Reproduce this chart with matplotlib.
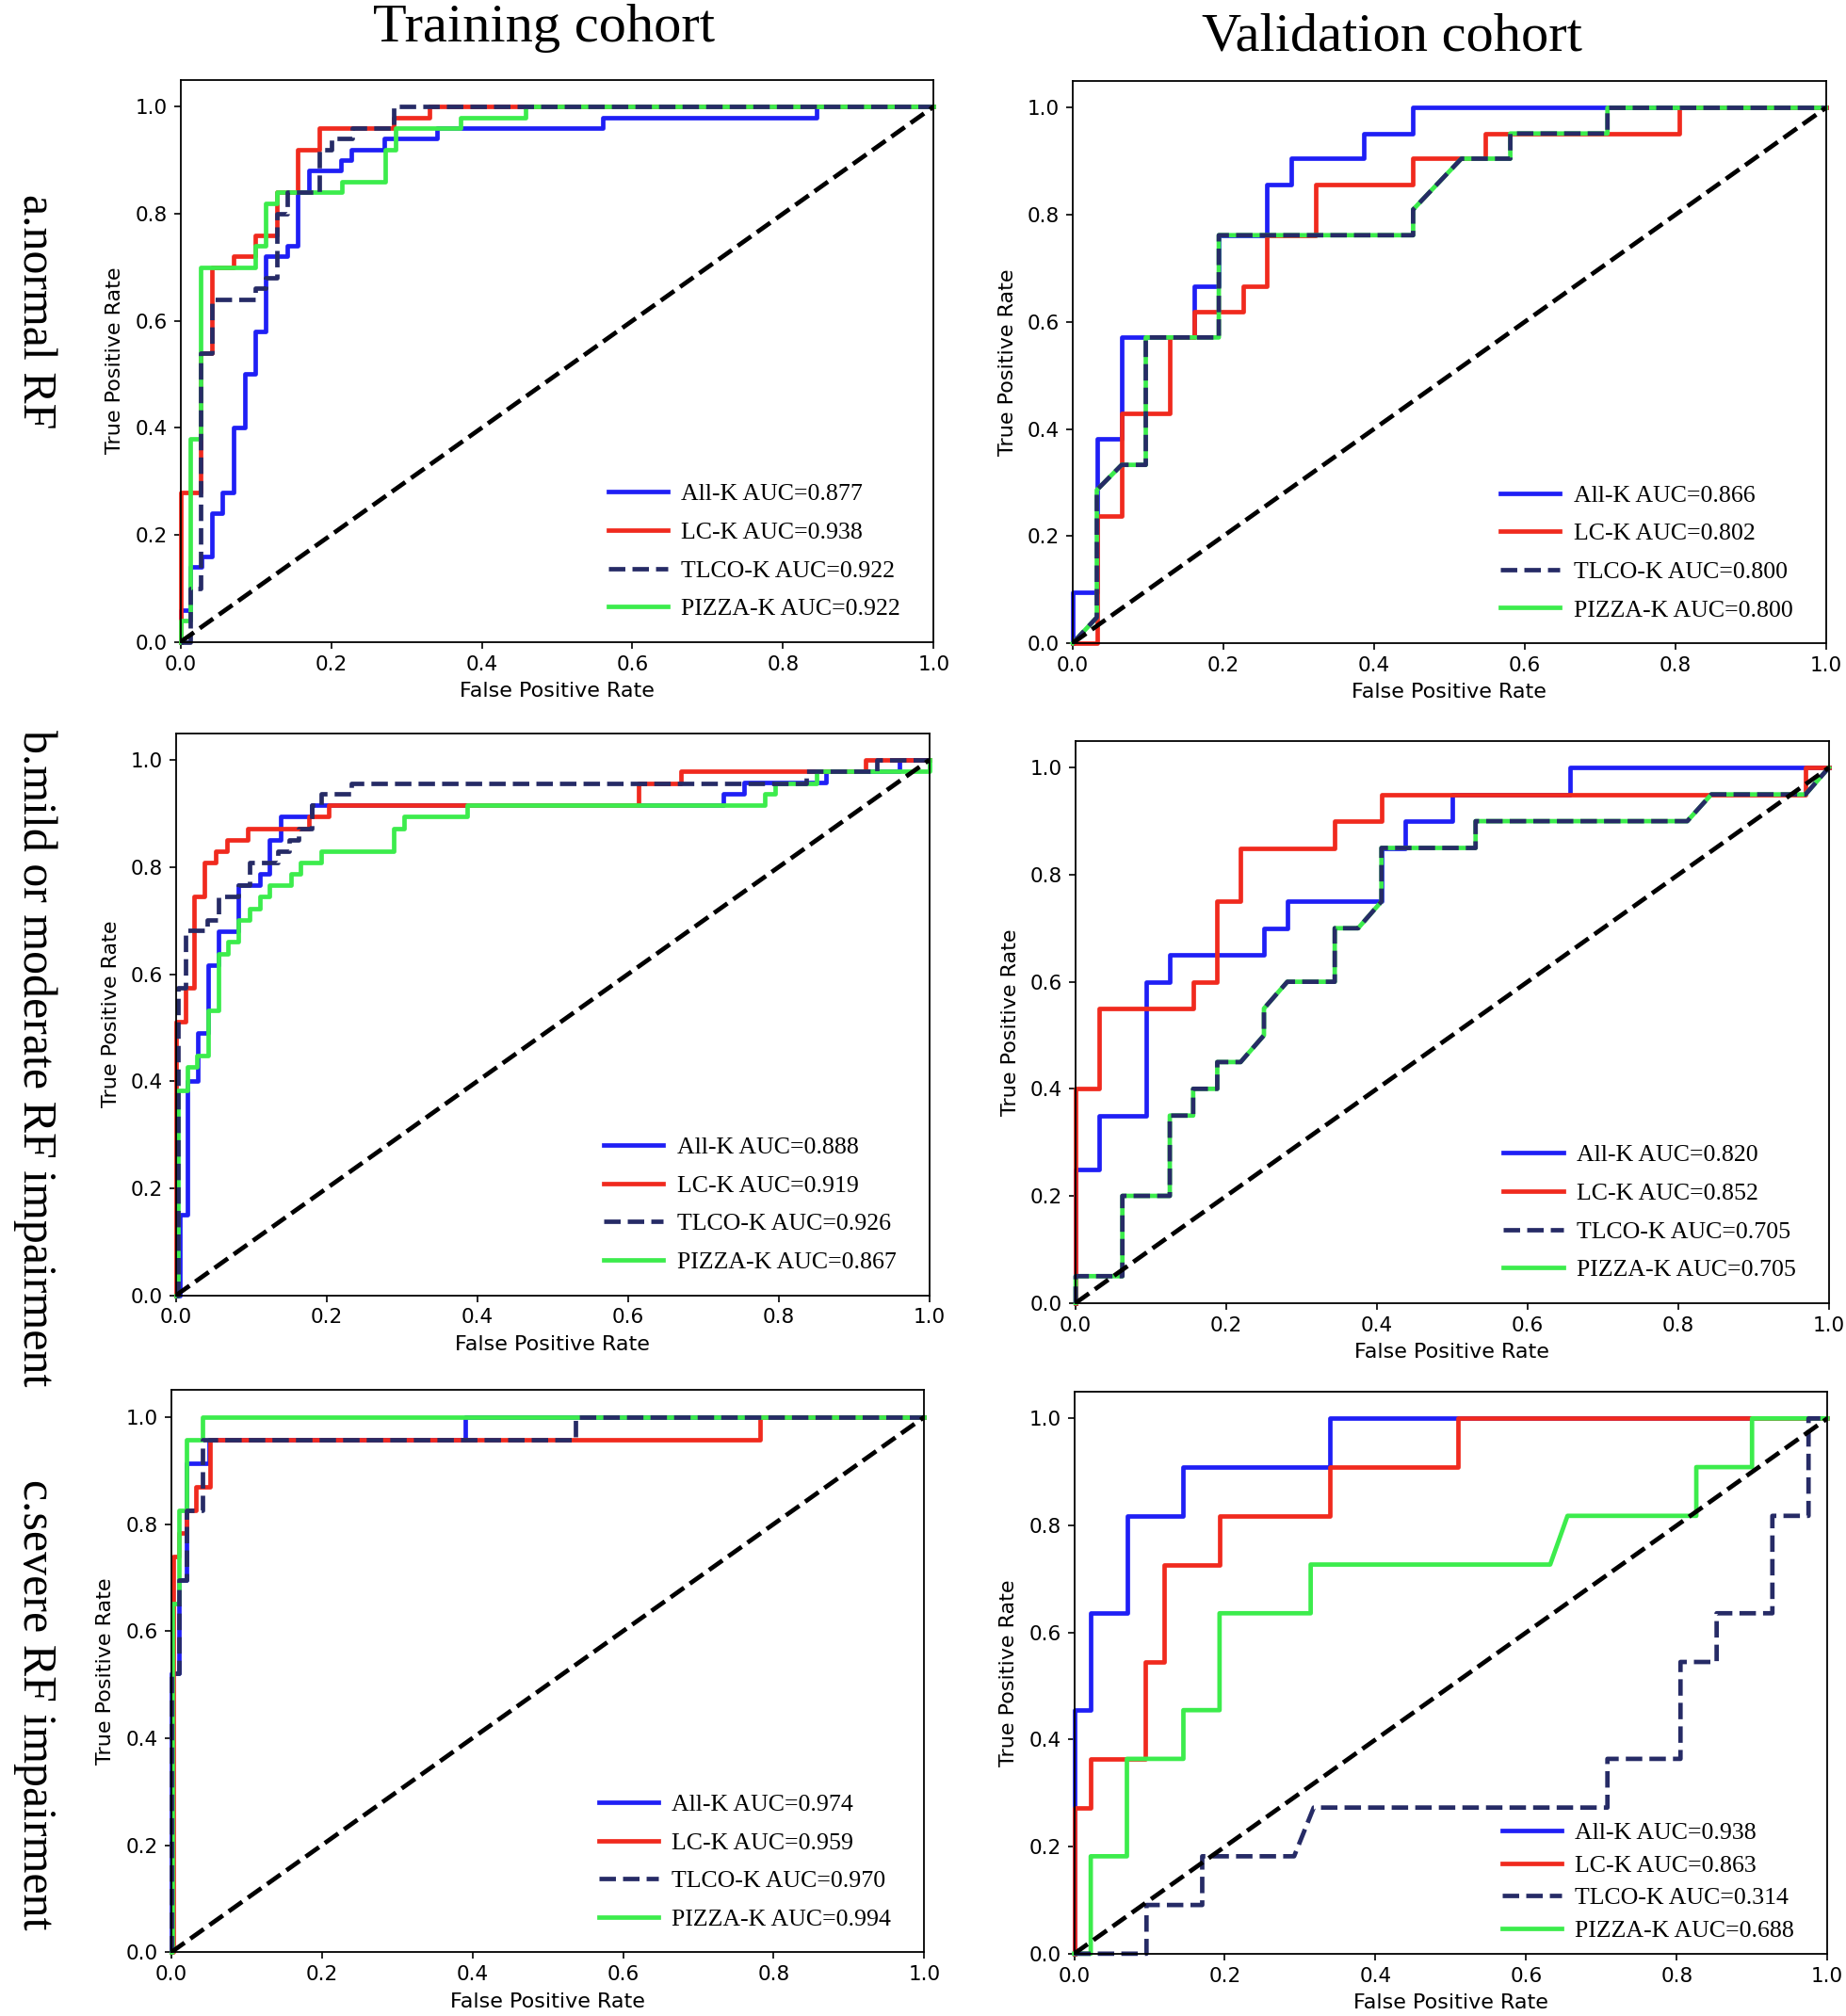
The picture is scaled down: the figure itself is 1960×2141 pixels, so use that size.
import matplotlib.pyplot as plt

plt.rcParams['font.family'] = 'DejaVu Sans'

models = ['All-K', 'LC-K', 'TLCO-K', 'PIZZA-K']
colors = ['#1f1ff5', '#f02a1e', '#262b66', '#3cec4c']
styles = ['-', '-', '--', '-']
zorders = [2.0, 2.1, 2.3, 2.2]

row_labels = ['a.normal RF', 'b.mild or moderate RF impairment', 'c.severe RF impairment']
col_titles = ['Training cohort', 'Validation cohort']

# ---- a. normal RF, training cohort ----
a_train_all_fpr = [0, 0, 0.013, 0.013, 0.028, 0.028, 0.042, 0.042, 0.056, 0.056, 0.071, 0.071, 0.085, 0.085,
                   0.099, 0.099, 0.113, 0.113, 0.142, 0.142, 0.156, 0.156, 0.170, 0.170, 0.213, 0.213, 0.227,
                   0.227, 0.270, 0.270, 0.340, 0.340, 0.560, 0.560, 0.844, 0.844, 1.0]
a_train_all_tpr = [0, 0.06, 0.06, 0.14, 0.14, 0.16, 0.16, 0.24, 0.24, 0.28, 0.28, 0.40, 0.40, 0.50, 0.50, 0.58,
                   0.58, 0.72, 0.72, 0.74, 0.74, 0.84, 0.84, 0.88, 0.88, 0.90, 0.90, 0.92, 0.92, 0.94, 0.94,
                   0.96, 0.96, 0.98, 0.98, 1.0, 1.0]
a_train_lc_fpr = [0, 0, 0.027, 0.027, 0.042, 0.042, 0.070, 0.070, 0.099, 0.099, 0.128, 0.128, 0.155, 0.155,
                  0.184, 0.184, 0.283, 0.283, 0.330, 0.330, 1.0]
a_train_lc_tpr = [0, 0.28, 0.28, 0.54, 0.54, 0.70, 0.70, 0.72, 0.72, 0.76, 0.76, 0.84, 0.84, 0.92, 0.92, 0.96,
                  0.96, 0.98, 0.98, 1.0, 1.0]
a_train_tlco_fpr = [0, 0.013, 0.013, 0.027, 0.027, 0.042, 0.042, 0.099, 0.099, 0.113, 0.113, 0.128, 0.128,
                    0.142, 0.142, 0.184, 0.184, 0.200, 0.200, 0.228, 0.228, 0.283, 0.283, 1.0]
a_train_tlco_tpr = [0, 0, 0.10, 0.10, 0.54, 0.54, 0.64, 0.64, 0.66, 0.66, 0.68, 0.68, 0.80, 0.80, 0.84, 0.84,
                    0.92, 0.92, 0.94, 0.94, 0.96, 0.96, 1.0, 1.0]
a_train_pizza_fpr = [0, 0, 0.013, 0.013, 0.027, 0.027, 0.099, 0.099, 0.113, 0.113, 0.128, 0.128, 0.214, 0.214,
                     0.272, 0.272, 0.286, 0.286, 0.372, 0.372, 0.458, 0.458, 1.0]
a_train_pizza_tpr = [0, 0.04, 0.04, 0.38, 0.38, 0.70, 0.70, 0.74, 0.74, 0.82, 0.82, 0.84, 0.84, 0.86, 0.86,
                     0.92, 0.92, 0.96, 0.96, 0.98, 0.98, 1.0, 1.0]
a_train_auc = [0.877, 0.938, 0.922, 0.922]

# ---- a. normal RF, validation cohort ----
a_val_all_fpr = [0, 0, 0.032, 0.032, 0.065, 0.065, 0.161, 0.161, 0.194, 0.194, 0.258, 0.258, 0.290, 0.290,
                 0.387, 0.387, 0.452, 0.452, 1.0]
a_val_all_tpr = [0, 0.095, 0.095, 0.381, 0.381, 0.571, 0.571, 0.667, 0.667, 0.762, 0.762, 0.857, 0.857, 0.905,
                 0.905, 0.952, 0.952, 1.0, 1.0]
a_val_lc_fpr = [0, 0.032, 0.032, 0.065, 0.065, 0.129, 0.129, 0.161, 0.161, 0.226, 0.226, 0.258, 0.258, 0.323,
                0.323, 0.452, 0.452, 0.548, 0.548, 0.806, 0.806, 1.0]
a_val_lc_tpr = [0, 0, 0.238, 0.238, 0.429, 0.429, 0.571, 0.571, 0.619, 0.619, 0.667, 0.667, 0.762, 0.762, 0.857,
                0.857, 0.905, 0.905, 0.952, 0.952, 1.0, 1.0]
a_val_tlco_fpr = [0, 0.032, 0.032, 0.065, 0.097, 0.097, 0.194, 0.194, 0.452, 0.452, 0.516, 0.581, 0.581, 0.710,
                  0.710, 1.0]
a_val_tlco_tpr = [0, 0.048, 0.286, 0.333, 0.333, 0.571, 0.571, 0.762, 0.762, 0.810, 0.905, 0.905, 0.952, 0.952,
                  1.0, 1.0]
a_val_pizza_fpr = [0, 0.032, 0.032, 0.065, 0.097, 0.097, 0.194, 0.194, 0.452, 0.452, 0.516, 0.581, 0.581, 0.710,
                   0.710, 1.0]
a_val_pizza_tpr = [0, 0.048, 0.286, 0.333, 0.333, 0.571, 0.571, 0.762, 0.762, 0.810, 0.905, 0.905, 0.952, 0.952,
                   1.0, 1.0]
a_val_auc = [0.866, 0.802, 0.800, 0.800]

# ---- b. mild or moderate RF impairment, training cohort ----
b_train_all_fpr = [0, 0.005, 0.005, 0.015, 0.015, 0.029, 0.029, 0.042, 0.042, 0.056, 0.056, 0.082, 0.082, 0.111,
                   0.111, 0.124, 0.124, 0.139, 0.139, 0.180, 0.180, 0.727, 0.727, 0.754, 0.754, 0.863, 0.863,
                   0.961, 0.961, 1.0]
b_train_all_tpr = [0, 0, 0.15, 0.15, 0.40, 0.40, 0.49, 0.49, 0.617, 0.617, 0.68, 0.68, 0.766, 0.766, 0.787,
                   0.787, 0.85, 0.85, 0.895, 0.895, 0.916, 0.916, 0.937, 0.937, 0.958, 0.958, 0.979, 0.979, 1.0,
                   1.0]
b_train_lc_fpr = [0, 0, 0.012, 0.012, 0.024, 0.024, 0.038, 0.038, 0.052, 0.052, 0.067, 0.067, 0.095, 0.095,
                  0.176, 0.176, 0.203, 0.203, 0.614, 0.614, 0.670, 0.670, 0.915, 0.915, 1.0]
b_train_lc_tpr = [0, 0.512, 0.512, 0.575, 0.575, 0.746, 0.746, 0.809, 0.809, 0.830, 0.830, 0.851, 0.851, 0.872,
                  0.872, 0.894, 0.894, 0.915, 0.915, 0.957, 0.957, 0.979, 0.979, 1.0, 1.0]
b_train_tlco_fpr = [0, 0.003, 0.003, 0.013, 0.013, 0.041, 0.041, 0.056, 0.056, 0.082, 0.082, 0.097, 0.097, 0.135,
                    0.135, 0.150, 0.150, 0.163, 0.163, 0.180, 0.180, 0.193, 0.193, 0.233, 0.233, 0.837, 0.837,
                    0.931, 0.931, 1.0]
b_train_tlco_tpr = [0, 0, 0.575, 0.575, 0.681, 0.681, 0.702, 0.702, 0.745, 0.745, 0.766, 0.766, 0.809, 0.809,
                    0.830, 0.830, 0.851, 0.851, 0.872, 0.872, 0.915, 0.915, 0.936, 0.936, 0.957, 0.957, 0.979,
                    0.979, 1.0, 1.0]
b_train_pizza_fpr = [0, 0.003, 0.003, 0.015, 0.015, 0.028, 0.028, 0.042, 0.042, 0.056, 0.056, 0.069, 0.069, 0.082,
                     0.082, 0.097, 0.097, 0.111, 0.111, 0.124, 0.124, 0.152, 0.152, 0.165, 0.165, 0.193, 0.193,
                     0.289, 0.289, 0.303, 0.303, 0.386, 0.386, 0.782, 0.782, 0.795, 0.795, 0.850, 0.850, 1.0,
                     1.0]
b_train_pizza_tpr = [0, 0, 0.383, 0.383, 0.426, 0.426, 0.447, 0.447, 0.532, 0.532, 0.638, 0.638, 0.660, 0.660,
                     0.702, 0.702, 0.723, 0.723, 0.745, 0.745, 0.766, 0.766, 0.787, 0.787, 0.809, 0.809, 0.830,
                     0.830, 0.872, 0.872, 0.894, 0.894, 0.915, 0.915, 0.936, 0.936, 0.957, 0.957, 0.979, 0.979,
                     1.0]
b_train_auc = [0.888, 0.919, 0.926, 0.867]

# ---- b. mild or moderate RF impairment, validation cohort ----
b_val_all_fpr = [0, 0, 0.031, 0.031, 0.094, 0.094, 0.125, 0.125, 0.250, 0.250, 0.281, 0.281, 0.406, 0.406,
                 0.438, 0.438, 0.500, 0.500, 0.656, 0.656, 1.0]
b_val_all_tpr = [0, 0.25, 0.25, 0.35, 0.35, 0.60, 0.60, 0.65, 0.65, 0.70, 0.70, 0.75, 0.75, 0.85, 0.85, 0.90,
                 0.90, 0.95, 0.95, 1.0, 1.0]
b_val_lc_fpr = [0, 0, 0.031, 0.031, 0.156, 0.156, 0.188, 0.188, 0.219, 0.219, 0.344, 0.344, 0.406, 0.406, 0.969,
                0.969, 1.0]
b_val_lc_tpr = [0, 0.40, 0.40, 0.55, 0.55, 0.60, 0.60, 0.75, 0.75, 0.85, 0.85, 0.90, 0.90, 0.95, 0.95, 1.0, 1.0]
b_val_tlco_fpr = [0, 0, 0.062, 0.062, 0.125, 0.125, 0.156, 0.156, 0.188, 0.188, 0.219, 0.250, 0.250, 0.281,
                  0.344, 0.344, 0.375, 0.406, 0.406, 0.531, 0.531, 0.812, 0.844, 0.969, 1.0]
b_val_tlco_tpr = [0, 0.05, 0.05, 0.20, 0.20, 0.35, 0.35, 0.40, 0.40, 0.45, 0.45, 0.50, 0.55, 0.60, 0.60, 0.70,
                  0.70, 0.75, 0.85, 0.85, 0.90, 0.90, 0.95, 0.95, 1.0]
b_val_pizza_fpr = [0, 0, 0.062, 0.062, 0.125, 0.125, 0.156, 0.156, 0.188, 0.188, 0.219, 0.250, 0.250, 0.281,
                   0.344, 0.344, 0.375, 0.406, 0.406, 0.531, 0.531, 0.812, 0.844, 0.969, 1.0]
b_val_pizza_tpr = [0, 0.05, 0.05, 0.20, 0.20, 0.35, 0.35, 0.40, 0.40, 0.45, 0.45, 0.50, 0.55, 0.60, 0.60, 0.70,
                   0.70, 0.75, 0.85, 0.85, 0.90, 0.90, 0.95, 0.95, 1.0]
b_val_auc = [0.820, 0.852, 0.705, 0.705]

# ---- c. severe RF impairment, training cohort ----
c_train_all_fpr = [0, 0, 0.010, 0.010, 0.020, 0.020, 0.050, 0.050, 0.390, 0.390, 1.0]
c_train_all_tpr = [0, 0.522, 0.522, 0.696, 0.696, 0.913, 0.913, 0.957, 0.957, 1.0, 1.0]
c_train_lc_fpr = [0, 0.003, 0.003, 0.011, 0.011, 0.021, 0.021, 0.033, 0.033, 0.052, 0.052, 0.782, 0.782, 1.0]
c_train_lc_tpr = [0, 0, 0.739, 0.739, 0.783, 0.783, 0.826, 0.826, 0.870, 0.870, 0.957, 0.957, 1.0, 1.0]
c_train_tlco_fpr = [0, 0, 0.010, 0.010, 0.020, 0.020, 0.042, 0.042, 0.537, 0.537, 1.0]
c_train_tlco_tpr = [0, 0.522, 0.522, 0.696, 0.696, 0.826, 0.826, 0.957, 0.957, 1.0, 1.0]
c_train_pizza_fpr = [0, 0.002, 0.002, 0.010, 0.010, 0.021, 0.021, 0.042, 0.042, 1.0]
c_train_pizza_tpr = [0, 0, 0.652, 0.652, 0.826, 0.826, 0.957, 0.957, 1.0, 1.0]
c_train_auc = [0.974, 0.959, 0.970, 0.994]

# ---- c. severe RF impairment, validation cohort ----
c_val_all_fpr = [0, 0, 0.022, 0.022, 0.070, 0.070, 0.145, 0.145, 0.339, 0.339, 1.0]
c_val_all_tpr = [0, 0.455, 0.455, 0.636, 0.636, 0.818, 0.818, 0.909, 0.909, 1.0, 1.0]
c_val_lc_fpr = [0, 0, 0.022, 0.022, 0.095, 0.095, 0.120, 0.120, 0.193, 0.193, 0.339, 0.339, 0.509, 0.509, 1.0]
c_val_lc_tpr = [0, 0.273, 0.273, 0.364, 0.364, 0.545, 0.545, 0.727, 0.727, 0.818, 0.818, 0.909, 0.909, 1.0, 1.0]
c_val_tlco_fpr = [0, 0.096, 0.096, 0.170, 0.170, 0.292, 0.318, 0.708, 0.708, 0.805, 0.805, 0.853, 0.853, 0.927,
                  0.927, 0.975, 0.975, 1.0]
c_val_tlco_tpr = [0, 0, 0.091, 0.091, 0.182, 0.182, 0.273, 0.273, 0.364, 0.364, 0.545, 0.545, 0.636, 0.636,
                  0.818, 0.818, 1.0, 1.0]
c_val_pizza_fpr = [0, 0.022, 0.022, 0.070, 0.070, 0.145, 0.145, 0.193, 0.193, 0.314, 0.314, 0.632, 0.655, 0.826,
                   0.826, 0.900, 0.900, 1.0]
c_val_pizza_tpr = [0, 0, 0.182, 0.182, 0.364, 0.364, 0.455, 0.455, 0.636, 0.636, 0.727, 0.727, 0.818, 0.818,
                   0.909, 0.909, 1.0, 1.0]
c_val_auc = [0.938, 0.863, 0.314, 0.688]

panels = [
    ([(a_train_all_fpr, a_train_all_tpr), (a_train_lc_fpr, a_train_lc_tpr),
      (a_train_tlco_fpr, a_train_tlco_tpr), (a_train_pizza_fpr, a_train_pizza_tpr)], a_train_auc),
    ([(a_val_all_fpr, a_val_all_tpr), (a_val_lc_fpr, a_val_lc_tpr),
      (a_val_tlco_fpr, a_val_tlco_tpr), (a_val_pizza_fpr, a_val_pizza_tpr)], a_val_auc),
    ([(b_train_all_fpr, b_train_all_tpr), (b_train_lc_fpr, b_train_lc_tpr),
      (b_train_tlco_fpr, b_train_tlco_tpr), (b_train_pizza_fpr, b_train_pizza_tpr)], b_train_auc),
    ([(b_val_all_fpr, b_val_all_tpr), (b_val_lc_fpr, b_val_lc_tpr),
      (b_val_tlco_fpr, b_val_tlco_tpr), (b_val_pizza_fpr, b_val_pizza_tpr)], b_val_auc),
    ([(c_train_all_fpr, c_train_all_tpr), (c_train_lc_fpr, c_train_lc_tpr),
      (c_train_tlco_fpr, c_train_tlco_tpr), (c_train_pizza_fpr, c_train_pizza_tpr)], c_train_auc),
    ([(c_val_all_fpr, c_val_all_tpr), (c_val_lc_fpr, c_val_lc_tpr),
      (c_val_tlco_fpr, c_val_tlco_tpr), (c_val_pizza_fpr, c_val_pizza_tpr)], c_val_auc),
]

# axes boxes in figure fractions (left, bottom, width, height)
positions = [
    (0.0978, 0.6816, 0.408, 0.2788),
    (0.5811, 0.6810, 0.408, 0.2788),
    (0.0954, 0.3575, 0.408, 0.2788),
    (0.5827, 0.3537, 0.408, 0.2788),
    (0.0927, 0.0316, 0.408, 0.2788),
    (0.5819, 0.0309, 0.408, 0.2788),
]
legend_spacing = [0.68, 0.68, 0.68, 0.68, 0.68, 0.45]
legend_y = [0.022, 0.022, 0.022, 0.022, 0.022, 0.004]

fig = plt.figure(figsize=(19.6, 21.41), dpi=100)

for (curves, aucs), pos, lsp, ly in zip(panels, positions, legend_spacing, legend_y):
    ax = fig.add_axes(pos)
    for (fpr, tpr), name, auc, c, ls, z in zip(curves, models, aucs, colors, styles, zorders):
        ax.plot(fpr, tpr, color=c, ls=ls, lw=3.4, zorder=z, clip_on=False,
                label='%s AUC=%.3f' % (name, auc))
    ax.plot([0, 1], [0, 1], color='black', ls='--', lw=3.4, zorder=2.5)
    ax.set_xlim(0.0, 1.0)
    ax.set_ylim(0.0, 1.05)
    ax.set_xticks([0.0, 0.2, 0.4, 0.6, 0.8, 1.0])
    ax.set_yticks([0.0, 0.2, 0.4, 0.6, 0.8, 1.0])
    ax.tick_params(labelsize=15.5, length=5, width=1.2, pad=5)
    for s in ax.spines.values():
        s.set_linewidth(1.3)
    ax.set_xlabel('False Positive Rate', fontsize=16, labelpad=6)
    ax.set_ylabel('True Positive Rate', fontsize=16, labelpad=8)
    ax.legend(loc='lower left', bbox_to_anchor=(0.555, ly), frameon=False,
              prop={'family': 'Liberation Serif', 'size': 18.6}, handlelength=2.45,
              handletextpad=0.55, labelspacing=lsp, borderaxespad=0)

serif = 'Liberation Serif'
fig.text(0.2948, 0.9796, col_titles[0], family=serif, fontsize=42, ha='center', va='baseline')
fig.text(0.754, 0.9752, col_titles[1], family=serif, fontsize=42, ha='center', va='baseline')
for lab, yc in zip(row_labels, [0.8454, 0.4752, 0.1546]):
    fig.text(0.019, yc, lab, family=serif, fontsize=36, rotation=270, ha='center', va='center')

fig.savefig('out.png', dpi=100)
